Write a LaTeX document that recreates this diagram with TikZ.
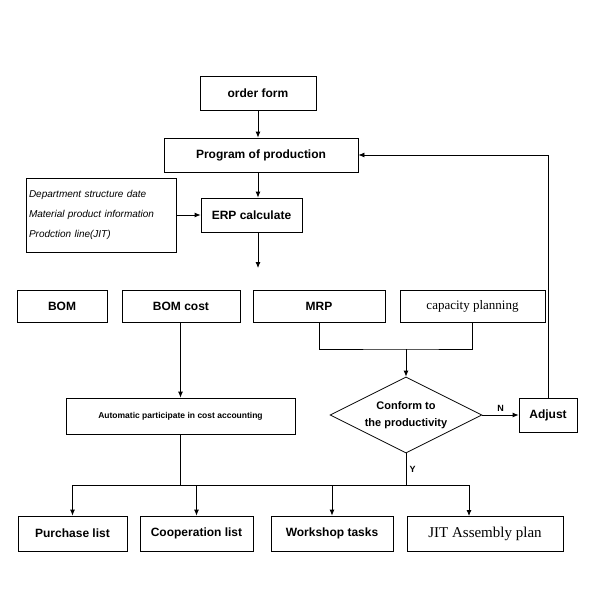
\documentclass[tikz,border=0pt]{standalone}
\usepackage{fontspec}
\setmainfont{Liberation Sans}
\newfontfamily\serifx{Liberation Serif}
\usetikzlibrary{shapes.geometric,arrows.meta}
\begin{document}
\begin{tikzpicture}[x=1pt,y=-1pt,
 bx/.style={draw,line width=0.8pt,rectangle,inner sep=0pt,font=\bfseries\fontsize{12}{14}\selectfont},
 ar/.style={-{Latex[length=6pt,width=5pt]},line width=0.8pt},
 ln/.style={line width=0.8pt}]
\useasboundingbox (0,0) rectangle (600,600);
\node[bx,minimum width=116,minimum height=34] (order) at (258,93) {order form};
\node[bx,minimum width=194,minimum height=34] (prog) at (261,155) {Program of production};
\node[bx,minimum width=101,minimum height=34] (erp) at (251.5,215) {ERP calculate};
\node[draw,line width=0.8pt,minimum width=150,minimum height=74,inner sep=0pt,text width=144,align=left,font=\itshape\fontsize{10}{20}\selectfont] (side) at (101,215) {Department structure date\\Material product information\\Prodction line(JIT)};
\node[bx,minimum width=90,minimum height=32] (bom) at (62,306) {BOM};
\node[bx,minimum width=118,minimum height=32] (bomc) at (181,306) {BOM cost};
\node[bx,minimum width=132,minimum height=32] (mrp) at (319,306) {MRP};
\node[bx,minimum width=145,minimum height=32,font=\serifx\fontsize{13}{14}\selectfont] (cap) at (472.5,306) {capacity planning};
\node[bx,minimum width=229,minimum height=36,font=\bfseries\fontsize{8.5}{10}\selectfont] (auto) at (180.5,416) {Automatic participate in cost accounting};
\node[draw,line width=0.8pt,diamond,aspect=2,minimum width=152,minimum height=76,inner sep=0pt,align=center,font=\bfseries\fontsize{11}{17}\selectfont] (dia) at (406,415) {Conform to\\the productivity};
\node[bx,minimum width=58,minimum height=34] (adj) at (548,415) {Adjust};
\node[bx,minimum width=109,minimum height=35] (pur) at (72.5,533.5) {Purchase list};
\node[bx,minimum width=113,minimum height=35] (coop) at (196.5,533.5) {Cooperation list};
\node[bx,minimum width=122,minimum height=35] (work) at (332,533.5) {Workshop tasks};
\node[bx,minimum width=156,minimum height=35,font=\serifx\fontsize{15}{16}\selectfont] (jit) at (485,533.5) {JIT Assembly plan};
\coordinate (band) at (258,268);
\draw[ar] (order.south) -- (order.south |- prog.north);
\draw[ar] (prog.south -| band) -- (erp.north -| band);
\draw[ar] (side) -- (erp);
\draw[ar] (erp.south -| band) -- (band);
\draw[ar] (bomc.south -| auto) -- (auto);
\coordinate (j) at (406,349);
\draw[ln] (mrp.south) |- (j) -| (cap.south);
\draw[ar] (j) -- (dia.north);
\draw[ar] (dia) -- node[above,font=\bfseries\small]{N} (adj);
\draw[ar] (adj.north) |- (prog.east);
\coordinate (bus) at (406,485);
\draw[ln] (dia.south) -- node[right,font=\bfseries\small,pos=0.5]{Y} (bus);
\draw[ln] (auto.south) -- (auto.south |- bus);
\draw[ln] (72,485) -- (469,485);
\draw[ar] (pur.north |- bus) -- (pur.north);
\draw[ar] (coop.north |- bus) -- (coop.north);
\draw[ar] (work.north |- bus) -- (work.north);
\draw[ar] (469,485) -- (469,516);
\end{tikzpicture}
\end{document}
